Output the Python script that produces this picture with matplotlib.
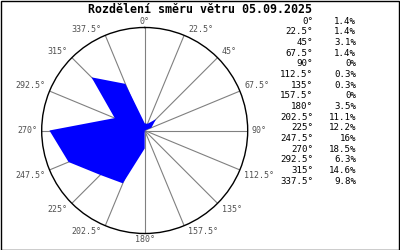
import numpy as np
import matplotlib
matplotlib.use("Agg")
import matplotlib.pyplot as plt
from matplotlib.patches import Rectangle

title = "Rozdělení směru větru 05.09.2025"
directions = [0, 22.5, 45, 67.5, 90, 112.5, 135, 157.5, 180, 202.5, 225, 247.5, 270, 292.5, 315, 337.5]
dir_labels = ["0°", "22.5°", "45°", "67.5°", "90°", "112.5°", "135°", "157.5°",
              "180°", "202.5°", "225°", "247.5°", "270°", "292.5°", "315°", "337.5°"]
percent = [1.4, 1.4, 3.1, 1.4, 0, 0.3, 0.3, 0, 3.5, 11.1, 12.2, 16, 18.5, 6.3, 14.6, 9.8]
pct_labels = ["1.4%", "1.4%", "3.1%", "1.4%", "0%", "0.3%", "0.3%", "0%", "3.5%",
              "11.1%", "12.2%", "16%", "18.5%", "6.3%", "14.6%", "9.8%"]
rmax = 20

W, H = 400, 250
fig = plt.figure(figsize=(W / 100, H / 100), dpi=100)
fig.patch.set_facecolor("white")

cx, cy, R = 144.7, 130.5, 103
ax = fig.add_axes([(cx - R) / W, (H - cy - R) / H, 2 * R / W, 2 * R / H], polar=True)
ax.set_theta_zero_location("N")
ax.set_theta_direction(-1)
ax.set_ylim(0, rmax)
ax.grid(False)
ax.set_xticks([])
ax.set_yticks([])
ax.spines["polar"].set_color("black")
ax.spines["polar"].set_linewidth(1.0)
ax.set_facecolor("white")

theta = np.deg2rad(directions)
for t in theta:
    ax.plot([t, t], [0, rmax], color="#808080", lw=0.8, zorder=1)

ax.fill(np.append(theta, theta[0]), np.append(percent, percent[0]),
        color="#0000ff", lw=0, zorder=2)

mono = "DejaVu Sans Mono"
for d, t, lab in zip(directions, theta, dir_labels):
    s, c = np.sin(t), np.cos(t)
    if abs(s) < 0.1:
        ha = "center"
    elif s > 0:
        ha = "left"
    else:
        ha = "right"
    if c > 0.3:
        va = "bottom"
    elif c < -0.3:
        va = "top"
    else:
        va = "center"
    dx = 3 * np.sign(s) if abs(s) > 0.1 else 0
    dy = 1 if c > 0.3 else (-1 if c < -0.3 else 0)
    ax.annotate(lab, xy=(t, rmax), xytext=(dx, dy), textcoords="offset points",
                ha=ha, va=va, fontsize=6, family=mono, color="#505050",
                annotation_clip=False, zorder=3)

fig.text(200 / W, 1 - 9.5 / H, title, ha="center", va="center",
         fontsize=8.4, fontweight="bold", family=mono)

for i, (dl, pl) in enumerate(zip(dir_labels, pct_labels)):
    y = 1 - (21 + i * 10.67) / H
    fig.text(313 / W, y, dl, ha="right", va="center", fontsize=6.6, family=mono)
    fig.text(356 / W, y, pl, ha="right", va="center", fontsize=6.6, family=mono)

fig.add_artist(Rectangle((0.5 / W, 0.5 / H), (W - 1.5) / W, (H - 1.5) / H,
                         transform=fig.transFigure, fill=False,
                         edgecolor="black", lw=1))

fig.savefig("out.png", dpi=100)
